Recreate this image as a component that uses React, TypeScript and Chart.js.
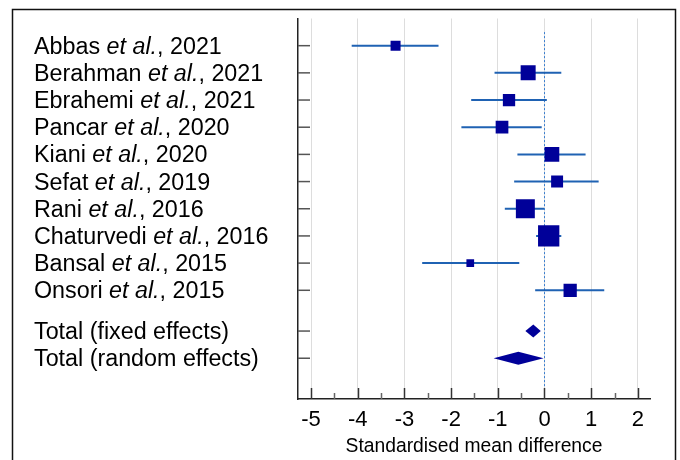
import React, { useEffect, useRef } from 'react';
import { Chart, registerables } from 'chart.js';

Chart.register(...registerables);

// ---- data ----
const authors = ['Abbas', 'Berahman', 'Ebrahemi', 'Pancar', 'Kiani', 'Sefat', 'Rani', 'Chaturvedi', 'Bansal', 'Onsori'];
const years = [2021, 2021, 2021, 2020, 2020, 2019, 2016, 2016, 2015, 2015];
const smd = [-3.19, -0.35, -0.76, -0.91, 0.16, 0.27, -0.41, 0.09, -1.59, 0.55];
const ciLow = [-4.13, -1.07, -1.57, -1.78, -0.58, -0.65, -0.85, -0.18, -2.62, -0.2];
const ciHigh = [-2.27, 0.36, 0.05, -0.06, 0.88, 1.16, -0.01, 0.36, -0.54, 1.28];
const weights = [4.9, 11.0, 7.4, 7.9, 10.5, 7.0, 17.6, 22.2, 2.9, 8.6];
const totalLabels = ['Total (fixed effects)', 'Total (random effects)'];
const totalEst = [-0.24, -0.56];
const totalLow = [-0.41, -1.09];
const totalHigh = [-0.08, -0.02];
const xTicks = [-5, -4, -3, -2, -1, 0, 1, 2];
const xTitle = 'Standardised mean difference';
const etAl = 'et al.';

// ---- layout / style ----
const FONT = '"Liberation Sans", Arial, sans-serif';
const studyRow = (i: number) => i + 1;
const totalRow = (j: number) => 11.5 + j;
const SQUARE_K = 4.52; // side length per sqrt(weight)
const NAVY = '#000099';
const CI_COLOR = '#1f62b3';

const forestPlugin = {
  id: 'forest',
  beforeDatasetsDraw(chart: any) {
    const { ctx, scales } = chart;
    const x = scales.x, y = scales.y;
    ctx.save();
    ctx.strokeStyle = '#3a7fd0';
    ctx.lineWidth = 1;
    ctx.setLineDash([2, 2]);
    const x0 = Math.round(x.getPixelForValue(0)) + 0.5;
    ctx.beginPath();
    ctx.moveTo(x0, y.getPixelForValue(0.5));
    ctx.lineTo(x0, y.getPixelForValue(14));
    ctx.stroke();
    ctx.restore();
  },
  afterDatasetsDraw(chart: any) {
    const { ctx, scales } = chart;
    const x = scales.x, y = scales.y;
    ctx.save();
    ctx.fillStyle = NAVY;
    totalEst.forEach((est, j) => {
      const yc = y.getPixelForValue(totalRow(j));
      const h = 6.5;
      ctx.beginPath();
      ctx.moveTo(x.getPixelForValue(totalLow[j]), yc);
      ctx.lineTo(x.getPixelForValue(est), yc - h);
      ctx.lineTo(x.getPixelForValue(totalHigh[j]), yc);
      ctx.lineTo(x.getPixelForValue(est), yc + h);
      ctx.closePath();
      ctx.fill();
    });
    ctx.restore();
  },
  afterDraw(chart: any) {
    const { ctx, scales, chartArea } = chart;
    const x = scales.x, y = scales.y;
    ctx.save();
    // y tick marks (inward)
    ctx.strokeStyle = '#555';
    ctx.lineWidth = 1.5;
    const rows = [...authors.map((_, i) => studyRow(i)), ...totalLabels.map((_, j) => totalRow(j))];
    rows.forEach((r) => {
      const yy = y.getPixelForValue(r);
      ctx.beginPath();
      ctx.moveTo(chartArea.left, yy);
      ctx.lineTo(chartArea.left + 12, yy);
      ctx.stroke();
    });
    // x tick marks (inward)
    xTicks.forEach((v, k) => {
      const xx = Math.round(x.getPixelForValue(v)) + 0.5;
      ctx.strokeStyle = '#333';
      ctx.beginPath();
      ctx.moveTo(xx, chartArea.bottom);
      ctx.lineTo(xx, chartArea.bottom - 11);
      ctx.stroke();
      if (k < xTicks.length - 1) {
        const xm = Math.round(x.getPixelForValue(v + 0.5)) + 0.5;
        ctx.strokeStyle = '#666';
        ctx.beginPath();
        ctx.moveTo(xm, chartArea.bottom);
        ctx.lineTo(xm, chartArea.bottom - 6);
        ctx.stroke();
      }
    });
    // labels
    ctx.fillStyle = '#000';
    ctx.textBaseline = 'alphabetic';
    ctx.textAlign = 'left';
    const lx = 34;
    const size = 23.3;
    const normal = `${size}px ${FONT}`;
    const italic = `italic ${size}px ${FONT}`;
    authors.forEach((a, i) => {
      const yy = y.getPixelForValue(studyRow(i)) + 8;
      let cx = lx;
      ctx.font = normal;
      const p1 = a + ' ';
      ctx.fillText(p1, cx, yy);
      cx += ctx.measureText(p1).width;
      ctx.font = italic;
      ctx.fillText(etAl, cx, yy);
      cx += ctx.measureText(etAl).width;
      ctx.font = normal;
      ctx.fillText(', ' + years[i], cx, yy);
    });
    totalLabels.forEach((t, j) => {
      const yy = y.getPixelForValue(totalRow(j)) + 8;
      ctx.font = normal;
      ctx.fillText(t, lx, yy);
    });
    // outer frame
    ctx.strokeStyle = '#111';
    ctx.lineWidth = 1.5;
    ctx.strokeRect(12.5, 9.5, 663, 480);
    ctx.restore();
  },
};

export default function App() {
  const ref = useRef<HTMLCanvasElement>(null);
  useEffect(() => {
    if (!ref.current) return;
    const squares = {
      type: 'scatter' as const,
      data: smd.map((v, i) => ({ x: v, y: studyRow(i) })),
      pointStyle: 'rect',
      pointRadius: weights.map((w) => (SQUARE_K * Math.sqrt(w)) / Math.SQRT2),
      backgroundColor: NAVY,
      borderColor: NAVY,
      borderWidth: 0,
      showLine: false,
    };
    const ciSets = authors.map((_, i) => ({
      type: 'scatter' as const,
      data: [
        { x: ciLow[i], y: studyRow(i) },
        { x: ciHigh[i], y: studyRow(i) },
      ],
      showLine: true,
      borderColor: CI_COLOR,
      borderWidth: 2,
      pointRadius: 0,
    }));
    const chart = new Chart(ref.current, {
      type: 'scatter',
      data: { datasets: [squares as any, ...ciSets] },
      options: {
        animation: false,
        responsive: false,
        events: [],
        layout: { padding: { top: 18.5, right: 30, left: 0, bottom: 0 } },
        plugins: { legend: { display: false }, tooltip: { enabled: false } },
        scales: {
          x: {
            type: 'linear',
            min: -5.28,
            max: 2.26,
            afterBuildTicks: (s: any) => {
              s.ticks = xTicks.map((v) => ({ value: v }));
            },
            afterFit: (s: any) => {
              s.height = 61;
            },
            grid: { color: '#dddddd', lineWidth: 1, drawTicks: false },
            border: { color: '#222', width: 1.5 },
            ticks: { font: { family: FONT, size: 22 }, color: '#000', padding: 8 },
            title: {
              display: true,
              text: xTitle,
              color: '#000',
              font: { family: FONT, size: 19.3 },
              padding: { top: 0, bottom: 2 },
            },
          },
          y: {
            type: 'linear',
            min: 0,
            max: 14,
            reverse: true,
            afterFit: (s: any) => {
              s.width = 298;
            },
            ticks: { display: false },
            grid: { display: false },
            border: { color: '#222', width: 1.5 },
          },
        },
      },
      plugins: [forestPlugin],
    });
    return () => chart.destroy();
  }, []);
  return (
    <canvas
      ref={ref}
      width={680}
      height={460}
      style={{ position: 'fixed', left: 0, top: 0, width: 680, height: 460 }}
    />
  );
}
